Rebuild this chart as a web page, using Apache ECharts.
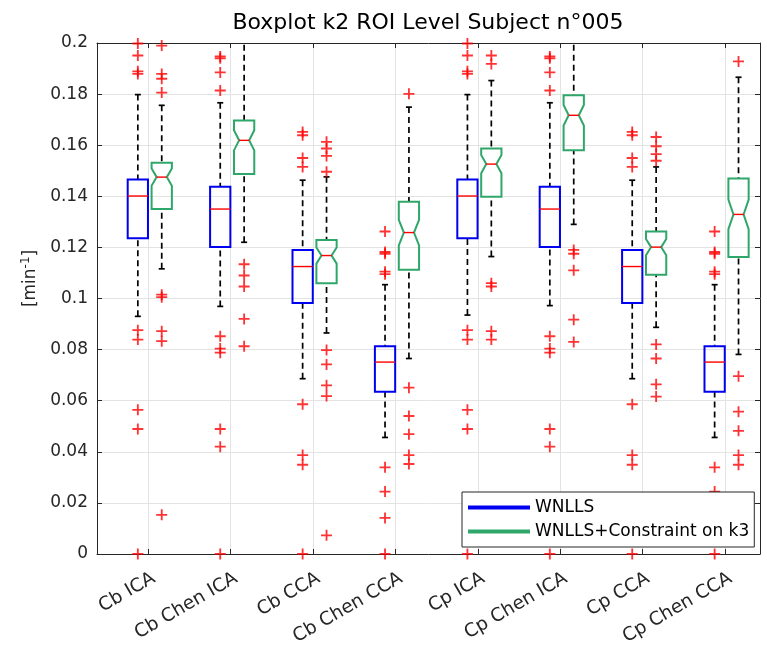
<!DOCTYPE html>
<html>
<head>
<meta charset="utf-8">
<title>Boxplot k2 ROI Level Subject n°005</title>
<script src="https://cdn.jsdelivr.net/npm/echarts@6/dist/echarts.min.js"></script>
<style>
  html, body { margin: 0; padding: 0; background: #fff; }
  #chart { width: 767px; height: 648px; }
</style>
</head>
<body>
<div id="chart"></div>
<script>
// Input-function groups along the x axis
const categories = ['Cb ICA', 'Cb Chen ICA', 'Cb CCA', 'Cb Chen CCA',
                    'Cp ICA', 'Cp Chen ICA', 'Cp CCA', 'Cp Chen CCA'];

// y axis ticks [min^-1]
const yTicks = [0, 0.02, 0.04, 0.06, 0.08, 0.1, 0.12, 0.14, 0.16, 0.18, 0.2];

// Box statistics per group: [lower whisker, Q1, median, Q3, upper whisker]
const wnllsStats = [
  [0.0930, 0.1236, 0.1401, 0.1466, 0.1798],
  [0.0969, 0.1201, 0.1350, 0.1437, 0.1766],
  [0.0686, 0.0982, 0.1125, 0.1190, 0.1463],
  [0.0456, 0.0635, 0.0751, 0.0813, 0.1054],
  [0.0935, 0.1236, 0.1401, 0.1466, 0.1798],
  [0.0972, 0.1201, 0.1350, 0.1437, 0.1766],
  [0.0686, 0.0982, 0.1125, 0.1190, 0.1463],
  [0.0456, 0.0635, 0.0751, 0.0813, 0.1054]
];
const constrainedStats = [
  [0.1116, 0.1350, 0.1475, 0.1531, 0.1756],
  [0.1220, 0.1487, 0.1619, 0.1697, 0.2150],
  [0.0865, 0.1060, 0.1168, 0.1229, 0.1476],
  [0.0765, 0.1112, 0.1258, 0.1379, 0.1749],
  [0.1164, 0.1398, 0.1526, 0.1587, 0.1853],
  [0.1290, 0.1580, 0.1717, 0.1795, 0.2150],
  [0.0887, 0.1093, 0.1201, 0.1262, 0.1515],
  [0.0781, 0.1162, 0.1329, 0.1470, 0.1866]
];

// Outliers per group
const wnllsOutliers = [
  [0.1998, 0.1951, 0.1889, 0.1879, 0.0876, 0.0839, 0.0564, 0.0489, 0],
  [0.1947, 0.1940, 0.1885, 0.1814, 0.0852, 0.0804, 0.0788, 0.0489, 0.0420, 0],
  [0.1652, 0.1639, 0.1550, 0.1515, 0.0586, 0.0387, 0.0349, 0],
  [0.1262, 0.1182, 0.1175, 0.1105, 0.1095, 0.0339, 0.0244, 0.0141, 0],
  [0.1998, 0.1951, 0.1889, 0.1879, 0.0876, 0.0839, 0.0564, 0.0489, 0],
  [0.1947, 0.1940, 0.1885, 0.1814, 0.0852, 0.0804, 0.0788, 0.0489, 0.0420, 0],
  [0.1652, 0.1639, 0.1550, 0.1515, 0.0586, 0.0387, 0.0349, 0],
  [0.1262, 0.1182, 0.1175, 0.1105, 0.1095, 0.0339, 0.0244, 0.0141, 0]
];
const constrainedOutliers = [
  [0.1990, 0.1879, 0.1860, 0.1806, 0.1015, 0.1005, 0.0872, 0.0833, 0.0153],
  [0.1134, 0.1090, 0.1047, 0.0920, 0.0813],
  [0.1613, 0.1587, 0.1558, 0.1496, 0.0798, 0.0742, 0.0660, 0.0618, 0.0073],
  [0.1801, 0.0651, 0.0540, 0.0469, 0.0387, 0.0352],
  [0.1951, 0.1918, 0.1060, 0.1047, 0.0872, 0.0839],
  [0.1190, 0.1175, 0.1110, 0.0917, 0.0830],
  [0.1632, 0.1596, 0.1565, 0.1539, 0.0820, 0.0765, 0.0664, 0.0616],
  [0.1928, 0.0696, 0.0557, 0.0482, 0.0387, 0.0349]
];

// Samples per box, used for the notch half-height 1.57*IQR/sqrt(n)
const sampleCount = 70;

const FONT = 'DejaVu Sans, Verdana, sans-serif';
const AXIS_COLOR = '#262626';
const BLUE = '#0000f0';
const GREEN = '#2fa66a';
const RED = '#ff0000';

// Placement of the two boxes around each group tick (in axis units)
const wnllsShift = -0.127;
const constrainedShift = 0.163;
const labelShift = 0.066;
const boxHalf = 0.123;

const groupIdx = categories.map((_, k) => k);
const labelPos = categories.map((_, k) => k + labelShift);

function boxItems(stats, shift) {
  return stats.map((s, k) => [k + shift].concat(s));
}
function outlierItems(outliers, shift) {
  const pts = [];
  outliers.forEach((list, k) => list.forEach(v => pts.push([k + shift, v])));
  return pts;
}

function makeBoxRenderer(color, notched) {
  return function (params, api) {
    const x = api.value(0);
    const lw = api.value(1), q1 = api.value(2), med = api.value(3),
          q3 = api.value(4), uw = api.value(5);
    const Y = v => api.coord([x, v])[1];
    const cx = api.coord([x, med])[0];
    const hw = api.size([boxHalf, 0])[0];
    const yLw = Y(lw), yQ1 = Y(q1), yMed = Y(med), yQ3 = Y(q3), yUw = Y(uw);
    const whisker = { stroke: '#000', lineWidth: 1.7, lineDash: [6, 4], fill: null };
    const cap = { stroke: '#000', lineWidth: 1.7, fill: null };
    const children = [
      { type: 'line', shape: { x1: cx, y1: yUw, x2: cx, y2: yQ3 }, style: whisker },
      { type: 'line', shape: { x1: cx, y1: yLw, x2: cx, y2: yQ1 }, style: whisker },
      { type: 'line', shape: { x1: cx - 3, y1: yUw, x2: cx + 3, y2: yUw }, style: cap },
      { type: 'line', shape: { x1: cx - 3, y1: yLw, x2: cx + 3, y2: yLw }, style: cap }
    ];
    let medHalf = hw;
    if (notched) {
      const span = 1.57 * (q3 - q1) / Math.sqrt(sampleCount);
      const yHi = Y(med + span), yLo = Y(med - span);
      medHalf = hw / 2;
      children.push({
        type: 'polygon',
        shape: { points: [
          [cx - hw, yQ3], [cx + hw, yQ3], [cx + hw, yHi], [cx + medHalf, yMed],
          [cx + hw, yLo], [cx + hw, yQ1], [cx - hw, yQ1], [cx - hw, yLo],
          [cx - medHalf, yMed], [cx - hw, yHi]
        ] },
        style: { fill: null, stroke: color, lineWidth: 2 }
      });
    } else {
      children.push({
        type: 'rect',
        shape: { x: cx - hw, y: yQ3, width: 2 * hw, height: yQ1 - yQ3 },
        style: { fill: null, stroke: color, lineWidth: 2 }
      });
    }
    children.push({
      type: 'line',
      shape: { x1: cx - medHalf, y1: yMed, x2: cx + medHalf, y2: yMed },
      style: { stroke: RED, lineWidth: 1.4 }
    });
    return { type: 'group', children: children };
  };
}

const plusSymbol = 'path://M5,0H7V5H12V7H7V12H5V7H0V5H5Z';

const chart = echarts.init(document.getElementById('chart'), null, { renderer: 'canvas' });

const xMin = -0.6226, xMax = 7.4236;
const frameLine = { show: true, onZero: false, lineStyle: { color: AXIS_COLOR, width: 1 } };

chart.setOption({
  animation: false,
  backgroundColor: '#fff',
  textStyle: { fontFamily: FONT },
  title: {
    text: 'Boxplot k2 ROI Level Subject n°005',
    left: 423, top: 7, textAlign: 'center',
    textStyle: { fontFamily: FONT, fontSize: 22, fontWeight: 'normal', color: '#000' }
  },
  grid: { left: 97, right: 7, top: 43, bottom: 93 },
  legend: {
    data: [
      { name: 'WNLLS', icon: 'rect' },
      { name: 'WNLLS+Constraint on k3', icon: 'rect' }
    ],
    orient: 'vertical',
    left: 462, top: 492,
    itemWidth: 62, itemHeight: 4, itemGap: 7,
    padding: [7, 5, 7, 6],
    borderColor: AXIS_COLOR, borderWidth: 1, backgroundColor: '#fff',
    selectedMode: false,
    textStyle: { fontFamily: FONT, fontSize: 17, color: '#000' },
    z: 10
  },
  xAxis: [
    {
      type: 'value', min: xMin, max: xMax, position: 'bottom',
      axisLine: frameLine,
      axisTick: { show: true, inside: true, length: 5, customValues: groupIdx,
                  lineStyle: { color: AXIS_COLOR } },
      axisLabel: {
        customValues: labelPos, rotate: 30, margin: 23,
        fontFamily: FONT, fontSize: 18.5, color: AXIS_COLOR,
        formatter: v => categories[Math.round(v - labelShift)]
      },
      splitLine: { show: true, lineStyle: { color: '#e3e3e3', width: 1 } }
    },
    {
      type: 'value', min: xMin, max: xMax, position: 'top',
      axisLine: frameLine,
      axisTick: { show: true, inside: true, length: 5, customValues: groupIdx,
                  lineStyle: { color: AXIS_COLOR } },
      axisLabel: { show: false },
      splitLine: { show: false }
    }
  ],
  yAxis: [
    {
      type: 'value', min: 0, max: 0.2, interval: 0.02, position: 'left',
      name: '[min{sup|-1}]', nameLocation: 'middle', nameGap: 47,
      nameTextStyle: {
        fontFamily: FONT, fontSize: 17, color: AXIS_COLOR, padding: [0, 0, 0, 40],
        rich: { sup: { fontFamily: FONT, fontSize: 12, color: AXIS_COLOR,
                       verticalAlign: 'top', padding: [0, 0, 9, 0] } }
      },
      axisLine: frameLine,
      axisTick: { show: true, inside: true, length: 5, lineStyle: { color: AXIS_COLOR } },
      axisLabel: {
        margin: 9, fontFamily: FONT, fontSize: 17, color: AXIS_COLOR,
        customValues: yTicks,
        formatter: v => String(Math.round(v * 100) / 100)
      },
      splitLine: { show: true, lineStyle: { color: '#e3e3e3', width: 1 } }
    },
    {
      type: 'value', min: 0, max: 0.2, interval: 0.02, position: 'right',
      axisLine: frameLine,
      axisTick: { show: true, inside: true, length: 5, lineStyle: { color: AXIS_COLOR } },
      axisLabel: { show: false },
      splitLine: { show: false }
    }
  ],
  series: [
    {
      name: 'WNLLS', type: 'custom', clip: true, z: 3,
      itemStyle: { color: BLUE },
      renderItem: makeBoxRenderer(BLUE, false),
      encode: { x: 0, y: [1, 2, 3, 4, 5] },
      data: boxItems(wnllsStats, wnllsShift)
    },
    {
      name: 'WNLLS+Constraint on k3', type: 'custom', clip: true, z: 3,
      itemStyle: { color: GREEN },
      renderItem: makeBoxRenderer(GREEN, true),
      encode: { x: 0, y: [1, 2, 3, 4, 5] },
      data: boxItems(constrainedStats, constrainedShift)
    },
    {
      name: 'WNLLS outliers', type: 'scatter', clip: false, z: 4,
      symbol: plusSymbol, symbolSize: 11,
      itemStyle: { color: RED },
      data: outlierItems(wnllsOutliers, wnllsShift)
    },
    {
      name: 'Constrained outliers', type: 'scatter', clip: false, z: 4,
      symbol: plusSymbol, symbolSize: 11,
      itemStyle: { color: RED },
      data: outlierItems(constrainedOutliers, constrainedShift)
    }
  ]
});
</script>
</body>
</html>
